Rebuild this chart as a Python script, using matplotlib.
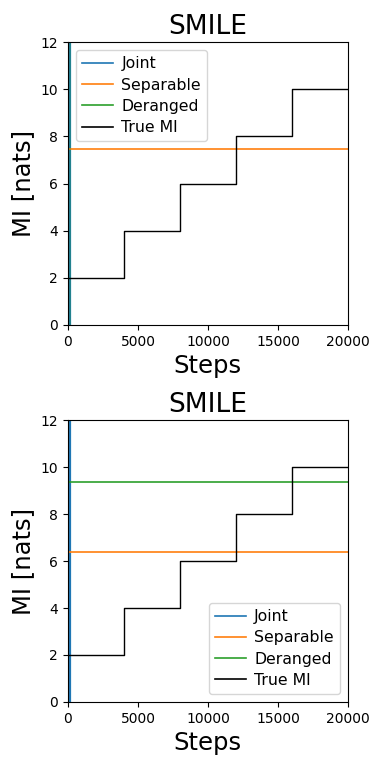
import matplotlib
matplotlib.use("Agg")
import matplotlib.pyplot as plt
import numpy as np

steps = [0, 100, 20000]
joint_steps = [150, 151, 20000]
joint_top = [0, 1000, 1000]
sep_top = [7.45, 7.45, 7.45]
der_top = [0, 1000, 1000]
joint_bot = [0, 1000, 1000]
sep_bot = [6.38, 6.38, 6.38]
der_bot = [9.35, 9.35, 9.35]

true_steps = [0, 4000, 8000, 12000, 16000, 20000]
true_mi = [2, 4, 6, 8, 10, 10]

fig = plt.figure(figsize=(3.84, 7.68), dpi=100)
ax1 = fig.add_axes([0.177, 0.577, 0.729, 0.368])
ax2 = fig.add_axes([0.177, 0.086, 0.729, 0.367])

panels = [(ax1, joint_top, sep_top, der_top, joint_steps, "upper left"),
          (ax2, joint_bot, sep_bot, der_bot, steps, "lower right")]
for ax, j, s, d, dsteps, loc in panels:
    ax.plot(joint_steps, j, color="C0", lw=1.5, label="Joint")
    ax.plot(steps, s, color="C1", lw=1.2, label="Separable")
    ax.plot(dsteps, d, color="C2", lw=1.2, alpha=0.3 if dsteps is joint_steps else 1, label="Deranged")
    ax.plot(true_steps, true_mi, color="black", lw=1, drawstyle="steps-post", label="True MI")
    ax.set_xlim(0, 20000)
    ax.set_ylim(0, 12)
    ax.set_title("SMILE", fontsize=19)
    ax.set_xlabel("Steps", fontsize=17.5)
    ax.set_ylabel("MI [nats]", fontsize=17.5)
    ax.set_xticks([0, 5000, 10000, 15000, 20000])
    ax.set_yticks([0, 2, 4, 6, 8, 10, 12])
    ax.tick_params(labelsize=10)
    leg = ax.legend(loc=loc, fontsize=11.3, handletextpad=0.5, labelspacing=0.4)
    for h in leg.legend_handles:
        h.set_alpha(1)
        h.set_linewidth(1.2)

fig.savefig("out.png", dpi=100)
